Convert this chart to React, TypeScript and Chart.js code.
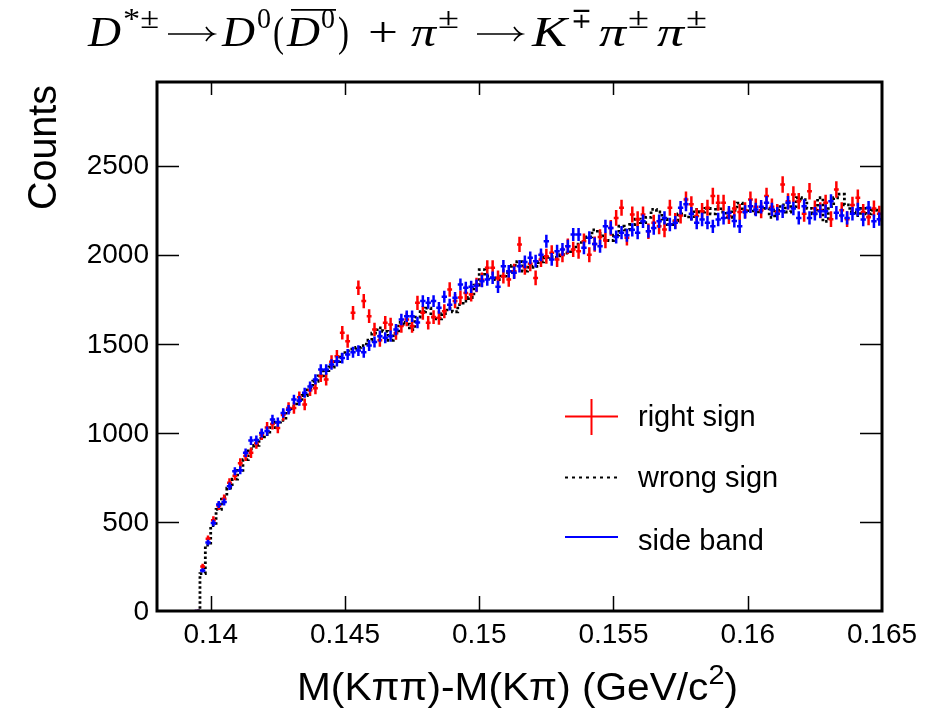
import React, { useEffect, useRef } from 'react';
import { Chart, registerables } from 'chart.js';
Chart.register(...registerables);

// Histogram binning (bin centers start at binStart, width binWidth)
const binStart = 0.1395;
const binWidth = 0.0002;

const rightSign = [
  0, 250, 405, 510, 590, 630, 720, 760, 830, 870,
  888, 940, 990, 1030, 1050, 1028, 1100, 1140, 1140, 1200,
  1160, 1240, 1250, 1320, 1300, 1400, 1430, 1562, 1515, 1674,
  1815, 1740, 1655, 1580, 1520, 1618, 1608, 1560, 1600, 1637,
  1600, 1730, 1674, 1618, 1650, 1646, 1683, 1805, 1740, 1760,
  1786, 1777, 1830, 1860, 1927, 1927, 1870, 1880, 1861, 1908,
  2058, 1930, 1950, 1870, 1974, 1992, 2011, 1974, 2000, 2048,
  2030, 2020, 2076, 2000, 2060, 2100, 2080, 2151, 2207, 2264,
  2095, 2226, 2200, 2226, 2132, 2180, 2160, 2142, 2264, 2190,
  2220, 2310, 2283, 2217, 2245, 2264, 2330, 2292, 2292, 2217,
  2260, 2240, 2250, 2310, 2270, 2250, 2330, 2270, 2240, 2395,
  2300, 2339, 2301, 2230, 2357, 2260, 2250, 2292, 2200, 2367,
  2250, 2200, 2280, 2320, 2240, 2210, 2260, 2230,
];

const wrongSign = [
  0, 210, 370, 480, 570, 640, 690, 740, 790, 850,
  910, 930, 970, 990, 1030, 1060, 1070, 1120, 1150, 1180,
  1210, 1250, 1290, 1320, 1350, 1370, 1400, 1440, 1460, 1470,
  1480, 1490, 1520, 1560, 1590, 1570, 1520, 1560, 1620, 1610,
  1580, 1650, 1680, 1700, 1650, 1640, 1670, 1700, 1680, 1720,
  1740, 1760, 1830, 1917, 1880, 1870, 1861, 1880, 1900, 1940,
  1962, 1908, 1930, 1935, 1960, 1985, 1990, 1985, 2000, 2010,
  2030, 2060, 2080, 2100, 2140, 2120, 2090, 2080, 2110, 2160,
  2140, 2170, 2200, 2180, 2210, 2255, 2240, 2200, 2170, 2190,
  2230, 2220, 2200, 2255, 2240, 2260, 2230, 2270, 2240, 2210,
  2250, 2290, 2240, 2260, 2230, 2250, 2260, 2210, 2250, 2280,
  2240, 2270, 2320, 2310, 2260, 2230, 2320, 2187, 2270, 2320,
  2340, 2280, 2240, 2220, 2260, 2230, 2250, 2240,
];

const sideBand = [
  0, 228, 385, 494, 598, 612, 700, 784, 790, 888,
  957, 960, 1000, 1010, 1075, 1060, 1112, 1130, 1187, 1180,
  1225, 1260, 1300, 1356, 1356, 1384, 1402, 1420, 1440, 1453,
  1462, 1453, 1490, 1510, 1543, 1534, 1543, 1580, 1637, 1655,
  1655, 1620, 1740, 1730, 1740, 1702, 1764, 1720, 1758, 1833,
  1815, 1820, 1827, 1852, 1861, 1871, 1820, 1936, 1908, 1899,
  1936, 1960, 1983, 1964, 2000, 2076, 1974, 2020, 2030, 2048,
  2114, 2114, 2039, 2095, 2060, 2048, 2160, 2151, 2100, 2124,
  2110, 2140, 2124, 2188, 2132, 2150, 2188, 2207, 2170, 2180,
  2264, 2283, 2230, 2180, 2198, 2180, 2160, 2198, 2207, 2236,
  2190, 2160, 2240, 2273, 2254, 2270, 2292, 2254, 2230, 2245,
  2292, 2260, 2207, 2273, 2207, 2230, 2245, 2245, 2301, 2236,
  2220, 2207, 2230, 2254, 2198, 2264, 2188, 2200,
];

const xTicks = [0.14, 0.145, 0.15, 0.155, 0.16, 0.165];
const xTickLabels = ['0.14', '0.145', '0.15', '0.155', '0.16', '0.165'];
const yTicks = [0, 500, 1000, 1500, 2000, 2500];
const yTickLabels = ['0', '500', '1000', '1500', '2000', '2500'];
const legendLabels = ['right sign', 'wrong sign', 'side band'];

const xMin = 0.138;
const xMax = 0.165;
const yMin = 0;
const yMax = 2970;

const SANS = '"Liberation Sans", Arial, Helvetica, sans-serif';
const SERIF = '"Liberation Serif", "DejaVu Serif", "Times New Roman", serif';
const RED = '#ff0000';
const BLUE = '#0000ff';

// Title glyphs with left x and box width (layout only)
type TGlyph = { t: string; x: number; w: number; it?: boolean; sup?: boolean; over?: boolean };
const titleGlyphs: TGlyph[] = [
  { t: 'D', x: 88, w: 33, it: true },
  { t: '*\u00b1', x: 123, w: 36, sup: true },
  { t: 'D', x: 222, w: 33, it: true },
  { t: '0', x: 257, w: 14, sup: true },
  { t: '(', x: 273, w: 11 },
  { t: 'D', x: 287, w: 33, it: true, over: true },
  { t: '0', x: 321, w: 14, sup: true, over: true },
  { t: ')', x: 338, w: 11 },
  { t: '+', x: 368, w: 30 },
  { t: '\u03c0', x: 411, w: 25, it: true },
  { t: '\u00b1', x: 438, w: 21, sup: true },
  { t: 'K', x: 532, w: 35, it: true },
  { t: '\u2213', x: 571, w: 21, sup: true },
  { t: '\u03c0', x: 599, w: 27, it: true },
  { t: '\u00b1', x: 628, w: 21, sup: true },
  { t: '\u03c0', x: 657, w: 27, it: true },
  { t: '\u00b1', x: 686, w: 21, sup: true },
];
const titleArrows = [
  [168, 214],
  [477, 522],
];

function drawTitle(ctx: CanvasRenderingContext2D, baseline: number, size: number) {
  ctx.save();
  ctx.fillStyle = '#000';
  ctx.textAlign = 'left';
  ctx.textBaseline = 'alphabetic';
  let overStart = -1;
  let overEnd = -1;
  titleGlyphs.forEach((g) => {
    const fs = g.sup ? Math.round(size * 0.7) : size;
    ctx.font = `${g.it ? 'italic ' : ''}${fs}px ${SERIF}`;
    const mw = ctx.measureText(g.t).width || 1;
    ctx.save();
    ctx.translate(g.x, g.sup ? baseline - size * 0.42 : baseline);
    ctx.scale(g.w / mw, 1);
    ctx.fillText(g.t, 0, 0);
    ctx.restore();
    if (g.over) {
      if (overStart < 0) overStart = g.x;
      overEnd = g.x + g.w;
    }
  });
  ctx.strokeStyle = '#000';
  ctx.lineWidth = 1.6;
  ctx.beginPath();
  if (overStart >= 0) {
    ctx.moveTo(overStart + 4, baseline - size * 0.86);
    ctx.lineTo(overEnd + 1, baseline - size * 0.86);
  }
  titleArrows.forEach(([x0, x1]) => {
    const y = baseline - 12;
    ctx.moveTo(x0, y);
    ctx.lineTo(x1, y);
    ctx.moveTo(x1 - 8, y - 7);
    ctx.quadraticCurveTo(x1 - 4, y - 1, x1, y);
    ctx.quadraticCurveTo(x1 - 4, y + 1, x1 - 8, y + 7);
  });
  ctx.stroke();
  ctx.restore();
}

type Seg = { t: string; sup?: boolean };
// Draw a run of text squeezed/stretched to fit [x0, x1].
function drawFit(
  ctx: CanvasRenderingContext2D,
  segs: Seg[],
  x0: number,
  x1: number,
  baseline: number,
  size: number,
  family: string
) {
  const fontFor = (s: Seg) => `${s.sup ? Math.round(size * 0.7) : size}px ${family}`;
  let total = 0;
  const widths = segs.map((s) => {
    ctx.font = fontFor(s);
    const w = ctx.measureText(s.t).width;
    total += w;
    return w;
  });
  const sx = (x1 - x0) / total;
  ctx.save();
  ctx.translate(x0, baseline);
  ctx.scale(sx, 1);
  ctx.fillStyle = '#000';
  ctx.textAlign = 'left';
  ctx.textBaseline = 'alphabetic';
  let x = 0;
  segs.forEach((s, i) => {
    ctx.font = fontFor(s);
    ctx.fillText(s.t, x, s.sup ? -size * 0.42 : 0);
    x += widths[i];
  });
  ctx.restore();
}

const decorPlugin = {
  id: 'decor',
  afterDatasetsDraw(chart: any) {
    const ctx: CanvasRenderingContext2D = chart.ctx;
    const xs = chart.scales.x;
    const ys = chart.scales.y;
    const ca = chart.chartArea;
    const drawCrosses = (dsIndex: number, color: string, errScale: number, hw: number) => {
      const ds = chart.data.datasets[dsIndex];
      ctx.save();
      ctx.beginPath();
      ctx.rect(ca.left, ca.top, ca.right - ca.left, ca.bottom - ca.top);
      ctx.clip();
      ctx.strokeStyle = color;
      ctx.lineWidth = 2.5;
      ds.data.forEach((p: { x: number; y: number }) => {
        const px = xs.getPixelForValue(p.x);
        const x0 = xs.getPixelForValue(p.x - binWidth * hw);
        const x1 = xs.getPixelForValue(p.x + binWidth * hw);
        const e = Math.sqrt(p.y) * errScale;
        const py = ys.getPixelForValue(p.y);
        const y0 = ys.getPixelForValue(p.y - e);
        const y1 = ys.getPixelForValue(p.y + e);
        ctx.beginPath();
        ctx.moveTo(x0, py);
        ctx.lineTo(x1, py);
        ctx.moveTo(px, y0);
        ctx.lineTo(px, y1);
        ctx.stroke();
      });
      ctx.restore();
    };
    drawCrosses(0, RED, 0.95, 0.45);
    drawCrosses(2, BLUE, 0.8, 0.5);
  },
  afterDraw(chart: any) {
    const ctx: CanvasRenderingContext2D = chart.ctx;
    const xs = chart.scales.x;
    const ys = chart.scales.y;
    const ca = chart.chartArea;
    ctx.save();
    // tick marks
    ctx.strokeStyle = '#000';
    ctx.lineWidth = 1.5;
    ctx.beginPath();
    xTicks.forEach((t) => {
      const px = Math.round(xs.getPixelForValue(t)) + 0.5;
      if (px > ca.right - 2) return;
      ctx.moveTo(px, ca.bottom);
      ctx.lineTo(px, ca.bottom - 15);
      ctx.moveTo(px, ca.top);
      ctx.lineTo(px, ca.top + 13);
    });
    yTicks.forEach((t) => {
      const py = Math.round(ys.getPixelForValue(t)) + 0.5;
      if (py > ca.bottom - 2) return;
      ctx.moveTo(ca.left, py);
      ctx.lineTo(ca.left + 22, py);
      ctx.moveTo(ca.right, py);
      ctx.lineTo(ca.right - 22, py);
    });
    ctx.stroke();
    // frame
    ctx.lineWidth = 3;
    ctx.strokeRect(ca.left, ca.top, ca.right - ca.left, ca.bottom - ca.top);

    // tick labels
    ctx.fillStyle = '#000';
    ctx.font = `28px ${SANS}`;
    ctx.textAlign = 'center';
    ctx.textBaseline = 'alphabetic';
    xTicks.forEach((t, i) => {
      ctx.fillText(xTickLabels[i], xs.getPixelForValue(t), 643);
    });
    ctx.textAlign = 'right';
    ctx.textBaseline = 'middle';
    yTicks.forEach((t, i) => {
      ctx.fillText(yTickLabels[i], 149, ys.getPixelForValue(t) + 1);
    });

    // legend
    ctx.strokeStyle = RED;
    ctx.lineWidth = 2;
    ctx.beginPath();
    ctx.moveTo(565, 416.5);
    ctx.lineTo(618, 416.5);
    ctx.moveTo(591.5, 399);
    ctx.lineTo(591.5, 435);
    ctx.stroke();
    ctx.strokeStyle = '#000';
    ctx.setLineDash([3, 4]);
    ctx.beginPath();
    ctx.moveTo(565, 477.5);
    ctx.lineTo(618, 477.5);
    ctx.stroke();
    ctx.setLineDash([]);
    ctx.strokeStyle = BLUE;
    ctx.beginPath();
    ctx.moveTo(565, 537);
    ctx.lineTo(618, 537);
    ctx.stroke();
    ctx.fillStyle = '#000';
    ctx.font = `29px ${SANS}`;
    ctx.textAlign = 'left';
    ctx.textBaseline = 'alphabetic';
    ctx.fillText(legendLabels[0], 638, 426);
    ctx.fillText(legendLabels[1], 638, 487);
    ctx.fillText(legendLabels[2], 638, 550);

    // y axis title
    ctx.save();
    ctx.translate(56, 210);
    ctx.rotate(-Math.PI / 2);
    drawFit(ctx, [{ t: 'Counts' }], 0, 125, 0, 40, SANS);
    ctx.restore();

    // x axis title
    drawFit(
      ctx,
      [{ t: 'M(K\u03c0\u03c0)-M(K\u03c0) (GeV/c' }, { t: '2', sup: true }, { t: ')' }],
      297,
      738,
      700,
      38,
      SANS
    );

    // main title
    drawTitle(ctx, 46, 42);
    ctx.restore();
  },
};

export default function App() {
  const canvasRef = useRef<HTMLCanvasElement | null>(null);
  useEffect(() => {
    if (!canvasRef.current) return;
    const toPts = (arr: number[]) => arr.map((v, i) => ({ x: binStart + i * binWidth, y: v }));
    const chart = new Chart(canvasRef.current, {
      type: 'line',
      data: {
        datasets: [
          {
            label: legendLabels[0],
            data: toPts(rightSign),
            showLine: false,
            pointRadius: 0,
            borderColor: RED,
          },
          {
            label: legendLabels[1],
            data: toPts(wrongSign),
            stepped: 'middle',
            borderDash: [2.5, 2.5],
            borderColor: '#000',
            borderWidth: 2.8,
            pointRadius: 0,
            fill: false,
          },
          {
            label: legendLabels[2],
            data: toPts(sideBand),
            showLine: false,
            pointRadius: 0,
            borderColor: BLUE,
          },
        ],
      } as any,
      options: {
        animation: false,
        responsive: false,
        layout: { padding: { left: 157, right: 57, top: 82, bottom: 101 } },
        scales: {
          x: { type: 'linear', display: false, min: xMin, max: xMax },
          y: { type: 'linear', display: false, min: yMin, max: yMax },
        },
        plugins: { legend: { display: false }, tooltip: { enabled: false } },
      } as any,
      plugins: [decorPlugin],
    });
    return () => chart.destroy();
  }, []);
  return (
    <div style={{ position: 'absolute', left: 0, top: 0, width: 939, height: 712, background: '#fff' }}>
      <canvas ref={canvasRef} width={939} height={712} style={{ display: 'block' }} />
    </div>
  );
}
